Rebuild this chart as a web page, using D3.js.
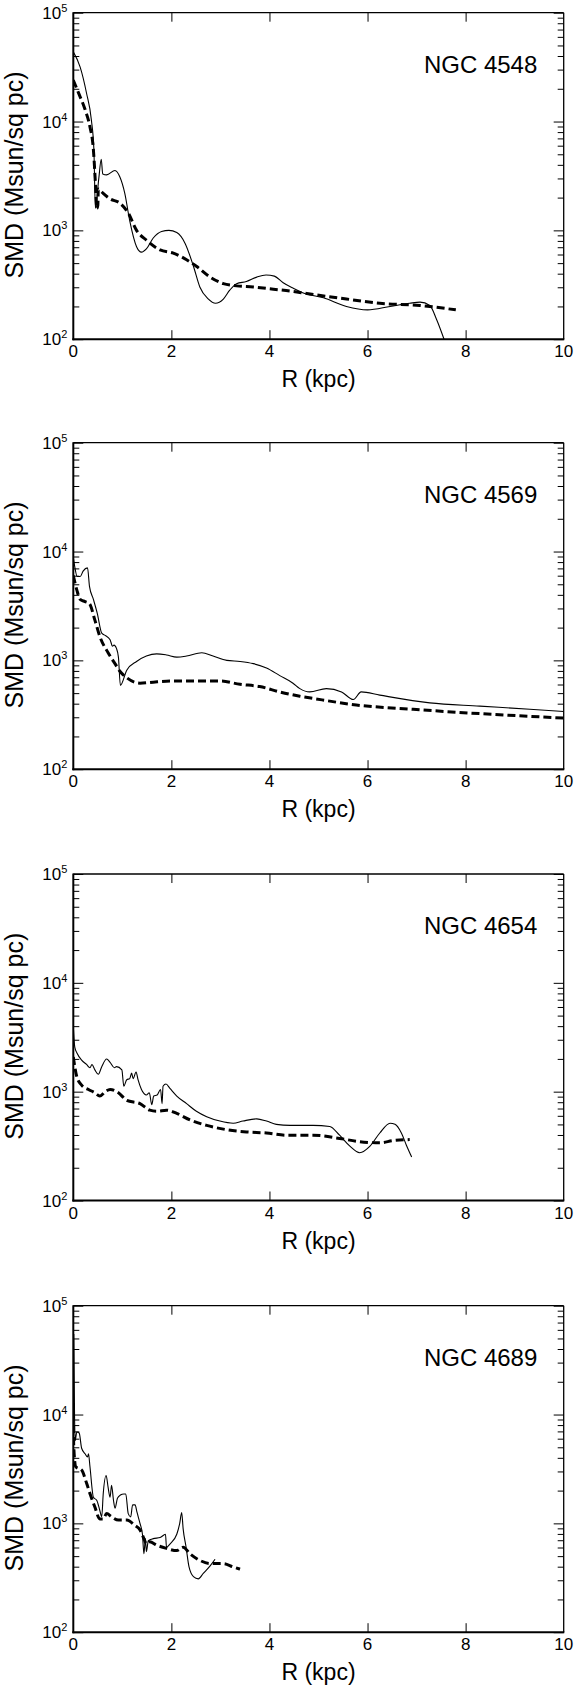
<!DOCTYPE html>
<html><head><meta charset="utf-8">
<script src="https://cdn.jsdelivr.net/npm/d3@7"></script>
<style>
body{margin:0;background:#fff}
svg{display:block}
text{font-family:"Liberation Sans",Arial,Helvetica,sans-serif;fill:#000}
</style></head>
<body><svg id="chart" width="574" height="1688"></svg>
<script>
// ---------------- data ----------------
const galaxies = ["NGC 4548", "NGC 4569", "NGC 4654", "NGC 4689"];
const xTickValues = [0, 2, 4, 6, 8, 10];
const yTickExponents = [2, 3, 4, 5];
const xAxisLabel = "R (kpc)";
const yAxisLabel = "SMD (Msun/sq pc)";

// NGC 4548
const n4548SolidR   = [0,0.14,0.27,0.37,0.42,0.45,0.52,0.57,0.60,0.68,0.85,0.95,1.05,1.15,1.29,1.39,1.49,1.63,1.80,1.95,2.11,2.28,2.45,2.58,2.75,2.90,3.06,3.19,3.33,3.53,3.74,3.93,4.10,4.28,4.48,4.72,5.10,5.57,6.00,6.46,6.86,7.07,7.27,7.41,7.56];
const n4548SolidSMD = [43652,31623,18197,10233,5495,1600,3000,4500,3300,3236,3548,3090,2188,1230,708,631,676,851,977,1000,955,759,468,302,235,214,234,282,324,339,372,389,380,330,295,263,240,200,186,200,214,219,204,151,100];
const n4548DashR    = [0,0.10,0.24,0.34,0.41,0.455,0.48,0.50,0.51,0.54,0.61,0.75,0.95,1.12,1.29,1.49,1.77,2.04,2.31,2.51,2.79,3.06,3.33,3.67,4.08,4.48,4.76,5.57,6.25,7.07,7.80];
const n4548DashSMD  = [23988,18621,12882,8913,5495,2512,1585,1700,2400,2344,2188,1950,1778,1445,1000,813,661,617,537,468,372,324,309,302,288,275,263,234,214,204,186];

// NGC 4569
const n4569SolidR   = [0,0.03,0.08,0.14,0.20,0.29,0.33,0.41,0.49,0.58,0.65,0.75,0.80,0.83,0.88,0.92,0.96,1.09,1.29,1.49,1.70,1.90,2.11,2.31,2.62,2.85,3.13,3.40,3.67,3.94,4.21,4.48,4.62,4.82,5.16,5.47,5.71,5.87,6.25,7.27,8.29,9.31,10.0];
const n4569SolidSMD = [8913,7244,5888,5888,6607,7079,4786,3631,2692,1778,1698,1549,1349,1380,1288,1072,589,813,977,1096,1148,1122,1072,1096,1175,1096,1000,977,933,851,724,617,550,513,550,513,437,513,479,407,380,355,339];
const n4569DashR    = [0,0.07,0.14,0.24,0.33,0.44,0.54,0.71,0.85,0.95,1.09,1.36,1.63,2.04,2.58,2.99,3.40,3.80,4.21,4.62,4.89,5.77,6.93,8.29,10.0];
const n4569DashSMD  = [6026,4467,3631,3467,3311,2344,1660,1175,933,794,692,617,631,646,646,646,603,575,513,468,447,389,355,324,295];

// NGC 4654
const n4654SolidR   = [0,0.03,0.08,0.17,0.27,0.34,0.38,0.44,0.51,0.58,0.68,0.75,0.84,0.88,0.99,1.03,1.09,1.15,1.19,1.22,1.28,1.32,1.39,1.49,1.55,1.60,1.64,1.71,1.78,1.81,1.83,1.89,1.97,2.11,2.31,2.51,2.72,2.99,3.26,3.46,3.74,3.94,4.14,4.42,4.89,5.23,5.43,5.64,5.84,6.05,6.25,6.46,6.56,6.69,6.79,6.90];
const n4654SolidSMD = [3981,2570,2239,1950,1778,1660,1778,1585,1445,1698,1995,1862,1660,1698,1585,1122,1288,1318,1479,1318,1514,1288,1047,933,977,759,912,933,1047,776,1122,1175,1072,912,776,661,589,537,513,537,562,537,501,490,490,479,398,316,275,316,417,513,501,417,324,251];
const n4654DashR    = [0,0.07,0.17,0.31,0.44,0.54,0.65,0.75,0.92,1.09,1.36,1.56,1.70,1.90,2.11,2.38,2.72,3.13,3.53,3.94,4.35,4.89,5.43,5.84,6.25,6.52,6.86];
const n4654DashSMD  = [2089,1380,1148,1047,977,912,1000,1047,977,832,776,676,661,676,631,550,490,447,427,417,398,398,372,347,339,355,363];

// NGC 4689
const n4689SolidR   = [0.01,0.025,0.04,0.07,0.12,0.17,0.24,0.29,0.31,0.34,0.41,0.48,0.54,0.58,0.61,0.67,0.71,0.75,0.78,0.82,0.85,0.90,0.96,1.03,1.07,1.12,1.17,1.21,1.26,1.30,1.36,1.41,1.44,1.47,1.49,1.53,1.63,1.77,1.88,1.90,1.97,2.11,2.17,2.21,2.24,2.30,2.36,2.45,2.55,2.65,2.79,2.89];
const n4689SolidSMD = [55000,10000,5754,6918,6761,4898,4365,4074,4365,3311,1738,1622,1318,1148,1862,2754,2138,1738,2239,1622,1380,1698,1820,1862,1862,1230,1148,1479,1479,1259,1000,794,525,724,550,692,724,741,794,603,646,794,1000,1259,891,603,398,324,309,347,407,468];
const n4689DashR    = [0,0.01,0.05,0.17,0.27,0.35,0.44,0.54,0.61,0.68,0.78,0.92,1.09,1.26,1.36,1.44,1.49,1.56,1.70,1.90,2.11,2.24,2.38,2.58,2.79,3.06,3.26,3.40];
const n4689DashSMD  = [8000,5012,3311,3090,2344,1820,1413,1096,1096,1230,1148,1072,1072,955,871,724,646,676,631,589,562,603,525,457,427,427,398,380];

// ---------------- drawing ----------------
const panels = [
  {name: galaxies[0], solid: [n4548SolidR, n4548SolidSMD], dash: [n4548DashR, n4548DashSMD]},
  {name: galaxies[1], solid: [n4569SolidR, n4569SolidSMD], dash: [n4569DashR, n4569DashSMD]},
  {name: galaxies[2], solid: [n4654SolidR, n4654SolidSMD], dash: [n4654DashR, n4654DashSMD]},
  {name: galaxies[3], solid: [n4689SolidR, n4689SolidSMD], dash: [n4689DashR, n4689DashSMD]}
];

const svg = d3.select("#chart");
const left = 73.3, pw = 490.4, ph = 326.5;
const tops = [12.7, 442.7, 874, 1305.7];

const x = d3.scaleLinear().domain([0, 10]).range([0, pw]);
const y = d3.scaleLog().domain([100, 100000]).range([ph, 0]);

const majorVals = yTickExponents.map(e => Math.pow(10, e));
const minorVals = [];
for (let e = 2; e < 5; e++) for (let m = 2; m <= 9; m++) minorVals.push(m * Math.pow(10, e));

const line = d3.line().x(d => x(d[0])).y(d => y(d[1])).curve(d3.curveMonotoneX);

panels.forEach((p, i) => {
  const g = svg.append("g").attr("transform", `translate(${left},${tops[i]})`);
  const cid = "clip" + i;
  g.append("clipPath").attr("id", cid).append("rect").attr("width", pw).attr("height", ph);

  // ticks (inward)
  const innerX = [2, 4, 6, 8];
  g.append("g").attr("transform", `translate(0,${ph})`)
    .call(d3.axisBottom(x).tickValues(innerX).tickSizeInner(-9).tickSizeOuter(0).tickFormat(""))
    .call(s => s.select(".domain").remove());
  g.append("g")
    .call(d3.axisTop(x).tickValues(innerX).tickSizeInner(-9).tickSizeOuter(0).tickFormat(""))
    .call(s => s.select(".domain").remove());
  g.append("g")
    .call(d3.axisLeft(y).tickValues(majorVals).tickSizeInner(-10).tickSizeOuter(0).tickFormat(""))
    .call(s => s.select(".domain").remove());
  g.append("g")
    .call(d3.axisLeft(y).tickValues(minorVals).tickSizeInner(-6).tickSizeOuter(0).tickFormat(""))
    .call(s => s.select(".domain").remove());
  g.append("g").attr("transform", `translate(${pw},0)`)
    .call(d3.axisRight(y).tickValues(majorVals).tickSizeInner(-10).tickSizeOuter(0).tickFormat(""))
    .call(s => s.select(".domain").remove());
  g.append("g").attr("transform", `translate(${pw},0)`)
    .call(d3.axisRight(y).tickValues(minorVals).tickSizeInner(-6).tickSizeOuter(0).tickFormat(""))
    .call(s => s.select(".domain").remove());
  g.selectAll(".tick line").attr("stroke", "#000").attr("stroke-width", 1);

  // x tick labels
  g.selectAll(".xl").data(xTickValues).enter().append("text")
    .attr("x", d => x(d)).attr("y", ph + 18)
    .attr("text-anchor", "middle").attr("font-size", 17).text(d => d);

  // y tick labels (10^n)
  yTickExponents.forEach(e => {
    const t = g.append("text").attr("x", -6).attr("y", y(Math.pow(10, e)) + 6)
      .attr("text-anchor", "end").attr("font-size", 17);
    t.append("tspan").text("10");
    t.append("tspan").attr("font-size", 11).attr("dy", -7).text(e);
  });

  // data lines
  const solid = p.solid[0].map((r, k) => [r, p.solid[1][k]]);
  const dash = p.dash[0].map((r, k) => [r, p.dash[1][k]]);
  const lg = g.append("g").attr("clip-path", `url(#${cid})`);
  lg.append("path").datum(dash).attr("d", line)
    .attr("fill", "none").attr("stroke", "#000").attr("stroke-width", 3)
    .attr("stroke-dasharray", "8,4");
  lg.append("path").datum(solid).attr("d", line)
    .attr("fill", "none").attr("stroke", "#000").attr("stroke-width", 1.1)
    .attr("stroke-linejoin", "round");

  // frame
  g.append("line").attr("x1", 0).attr("x2", pw).attr("y1", 0).attr("y2", 0).attr("stroke", "#000").attr("stroke-width", 1.3);
  g.append("line").attr("x1", pw).attr("x2", pw).attr("y1", 0).attr("y2", ph).attr("stroke", "#000").attr("stroke-width", 1.3);
  g.append("line").attr("x1", 0).attr("x2", 0).attr("y1", -0.5).attr("y2", ph + 1).attr("stroke", "#000").attr("stroke-width", 2);
  g.append("line").attr("x1", -1).attr("x2", pw + 0.6).attr("y1", ph).attr("y2", ph).attr("stroke", "#000").attr("stroke-width", 2);

  // galaxy name
  g.append("text").attr("x", 464).attr("y", 60).attr("text-anchor", "end")
    .attr("font-size", 24).text(p.name);

  // axis labels
  g.append("text").attr("x", x(5)).attr("y", ph + 48).attr("text-anchor", "middle")
    .attr("font-size", 23).text(xAxisLabel);
  g.append("text").attr("transform", `translate(${-50},${ph / 2 - 1}) rotate(-90)`)
    .attr("text-anchor", "middle").attr("font-size", 25).text(yAxisLabel);
});
</script></body></html>
